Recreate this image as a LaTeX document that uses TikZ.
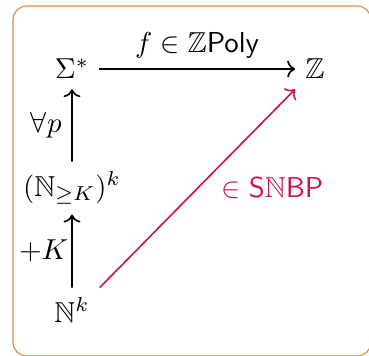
\documentclass[tikz,border=0pt]{standalone}
\usepackage{amsmath,amssymb}
\usetikzlibrary{arrows.meta,positioning}
\definecolor{boxorange}{RGB}{230,135,60}
\definecolor{softcrimson}{RGB}{204,20,85}

\begin{document}
\begin{tikzpicture}[x=0.364pt,y=-0.364pt, every node/.style={scale=1.05}]
  \useasboundingbox (0,0) rectangle (369,355);
  \draw[boxorange, line width=0.4pt, rounded corners=5pt] (13,6) rectangle (371,356);
  \node (sig) at (72,69) {$\Sigma^*$};
  \node (Z) at (315,69) {$\mathbb{Z}$};
  \node (NK) at (72,188) {$(\mathbb{N}_{\geq K})^k$};
  \node (Nk) at (72,310) {$\mathbb{N}^k$};
  \draw[->, semithick] (sig) -- (Z) node[midway, above] {$f \in \mathbb{Z}\mathsf{Poly}$};
  \draw[->, semithick] (NK) -- (sig) node[midway, left] {$\forall p$};
  \draw[->, semithick] (Nk) -- (NK) node[midway, left, inner sep=1pt] {$+K$};
  \draw[->, semithick, softcrimson] (Nk.north east) -- (Z.south west)
    node[midway, right=5pt] {$\in \mathsf{S}\mathbb{N}\mathsf{BP}$};
\end{tikzpicture}
\end{document}
